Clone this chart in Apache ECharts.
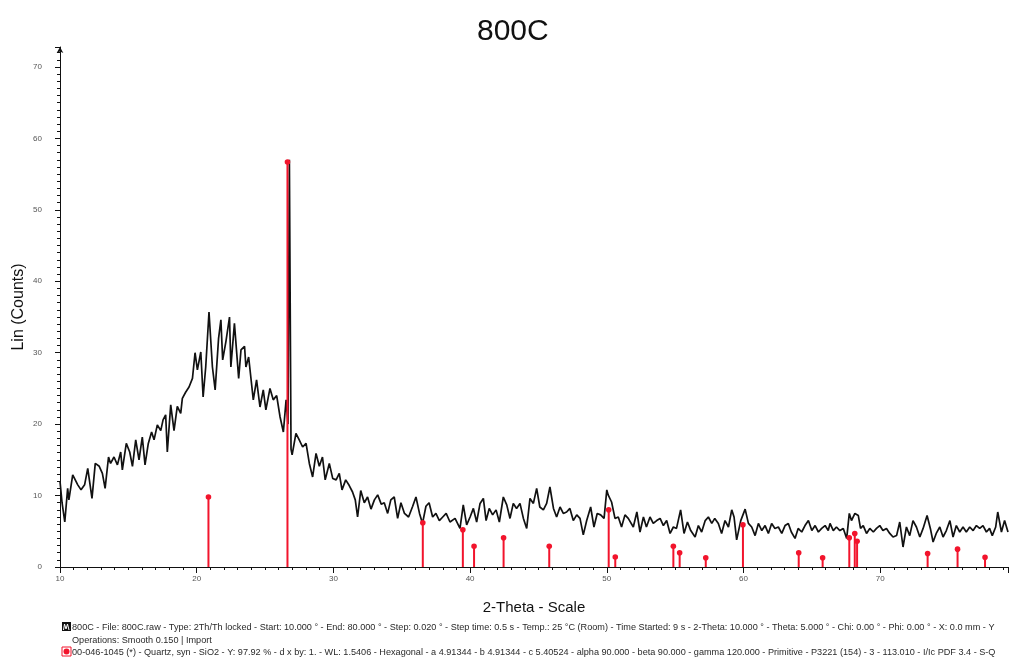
<!DOCTYPE html>
<html>
<head>
<meta charset="utf-8">
<title>800C</title>
<script src="https://cdn.jsdelivr.net/npm/echarts@6/dist/echarts.min.js"></script>
<style>
  html, body { margin: 0; padding: 0; background: #ffffff; }
  #chart { width: 1010px; height: 658px; }
</style>
</head>
<body>
<div id="chart"></div>
<script>
// Measured scan: 2-Theta (degrees) and Lin (Counts)
const scanAngle = [
  10.0, 10.15, 10.35, 10.56, 10.65, 10.93, 11.3, 11.54, 11.8, 12.03, 12.34, 12.58, 12.87, 13.1, 13.3,
  13.55, 13.7, 13.95, 14.2, 14.44, 14.56, 14.85, 15.1, 15.3, 15.54, 15.78, 16.02, 16.22, 16.46, 16.7,
  16.88, 17.12, 17.37, 17.54, 17.73, 17.85, 18.1, 18.34, 18.58, 18.83, 18.95, 19.2, 19.44, 19.69, 19.88,
  20.05, 20.3, 20.47, 20.66, 20.9, 21.15, 21.35, 21.6, 21.77, 21.9, 22.14, 22.4, 22.5, 22.76, 23.07,
  23.24, 23.5, 23.6, 23.8, 24.14, 24.38, 24.63, 24.87, 25.06, 25.36, 25.6, 25.85, 26.1, 26.34, 26.54,
  26.68, 26.78, 26.84, 26.9, 26.98, 27.26, 27.5, 27.75, 28.0, 28.24, 28.48, 28.73, 28.97, 29.2, 29.4,
  29.7, 29.95, 30.2, 30.43, 30.63, 30.9, 31.16, 31.4, 31.6, 31.77, 32.0, 32.26, 32.5, 32.75, 33.0,
  33.24, 33.5, 33.72, 33.97, 34.2, 34.45, 34.7, 34.94, 35.2, 35.5, 35.8, 36.04, 36.3, 36.52, 36.77,
  37.0, 37.26, 37.5, 37.75, 38.0, 38.25, 38.53, 38.9, 39.26, 39.5, 39.75, 40.0, 40.24, 40.48, 40.73,
  40.97, 41.17, 41.4, 41.65, 41.9, 42.14, 42.43, 42.68, 42.92, 43.16, 43.4, 43.65, 43.9, 44.14, 44.38,
  44.63, 44.87, 45.1, 45.36, 45.6, 45.84, 46.1, 46.33, 46.58, 46.82, 47.06, 47.3, 47.55, 47.8, 48.04,
  48.28, 48.53, 48.82, 49.06, 49.3, 49.55, 49.8, 50.0, 50.1, 50.35, 50.6, 50.84, 51.08, 51.33, 51.57,
  51.94, 52.2, 52.43, 52.68, 52.9, 53.16, 53.4, 53.65, 53.9, 54.14, 54.38, 54.63, 54.87, 55.1, 55.4,
  55.65, 55.9, 56.14, 56.46, 56.7, 56.94, 57.2, 57.43, 57.68, 57.9, 58.16, 58.4, 58.65, 58.9, 59.14,
  59.31, 59.5, 59.8, 60.12, 60.36, 60.6, 60.85, 61.09, 61.34, 61.58, 61.82, 62.06, 62.3, 62.55, 62.8,
  63.04, 63.28, 63.5, 63.77, 64.0, 64.26, 64.5, 64.75, 65.0, 65.24, 65.48, 65.72, 65.97, 66.2, 66.33,
  66.57, 66.8, 67.05, 67.3, 67.55, 67.74, 67.9, 68.15, 68.4, 68.56, 68.76, 69.0, 69.24, 69.5, 69.73,
  69.97, 70.2, 70.46, 70.7, 70.94, 71.2, 71.43, 71.67, 71.92, 72.16, 72.4, 72.65, 72.9, 73.14, 73.43,
  73.67, 73.87, 74.1, 74.36, 74.6, 74.84, 75.1, 75.33, 75.57, 75.82, 76.06, 76.3, 76.55, 76.8, 77.04,
  77.28, 77.52, 77.77, 78.0, 78.2, 78.45, 78.6, 78.87, 79.1, 79.35
];
const scanCounts = [
  12.0, 9.0, 6.3, 11.0, 9.4, 12.9, 11.5, 10.8, 11.5, 13.8, 9.6, 14.5, 14.1, 13.1, 11.0,
  15.4, 14.5, 15.4, 14.3, 16.1, 13.6, 17.3, 16.1, 14.1, 17.8, 15.0, 18.2, 14.3, 17.3, 18.9,
  17.8, 19.9, 19.1, 20.6, 21.3, 16.1, 22.7, 19.1, 22.5, 21.5, 23.6, 24.5, 25.2, 26.4, 30.0,
  27.6, 30.1, 23.8, 28.0, 35.7, 28.0, 24.8, 32.0, 34.6, 29.0, 31.6, 35.0, 28.0, 34.1, 26.4,
  30.4, 30.9, 28.0, 29.4, 23.4, 26.2, 22.4, 24.8, 22.0, 25.0, 23.4, 24.0, 21.0, 18.9, 23.4,
  20.0, 57.0, 57.0, 16.5, 15.7, 18.7, 17.8, 16.8, 17.3, 14.5, 12.6, 15.9, 14.1, 15.4, 12.2,
  14.5, 12.4, 12.2, 13.1, 10.8, 12.2, 11.4, 10.5, 9.4, 7.0, 10.7, 9.0, 9.8, 8.1, 9.4,
  10.1, 8.8, 9.0, 7.5, 9.4, 9.8, 6.8, 9.0, 7.5, 7.0, 8.5, 9.8, 7.5, 6.1, 8.5,
  9.0, 7.0, 7.5, 6.5, 7.0, 7.5, 6.3, 6.8, 5.4, 8.7, 5.9, 7.0, 8.2, 6.3, 8.9,
  9.6, 6.5, 8.2, 7.3, 8.0, 6.3, 9.8, 8.7, 6.8, 8.9, 8.2, 8.9, 6.8, 5.4, 9.6,
  8.9, 11.0, 8.4, 8.0, 8.9, 11.2, 8.2, 7.0, 8.4, 7.5, 7.7, 8.2, 6.5, 7.3, 6.8,
  4.5, 6.5, 8.4, 5.6, 7.5, 7.3, 6.8, 10.8, 10.1, 9.1, 6.8, 7.0, 5.6, 7.3, 6.8,
  5.6, 7.7, 4.9, 7.0, 5.6, 7.0, 6.1, 6.5, 6.8, 5.8, 6.5, 4.7, 5.6, 5.4, 8.0,
  4.7, 6.3, 5.1, 4.2, 5.8, 4.9, 6.5, 7.0, 6.1, 6.8, 6.1, 4.7, 6.5, 5.6, 8.0,
  7.0, 3.8, 6.5, 8.1, 6.1, 5.6, 4.4, 6.1, 5.1, 5.8, 4.7, 6.1, 5.4, 5.6, 4.7,
  5.8, 6.1, 4.9, 4.0, 5.4, 4.9, 5.8, 6.5, 5.1, 5.8, 4.9, 5.4, 5.8, 5.1, 6.1,
  5.1, 5.6, 5.1, 5.4, 4.0, 7.5, 6.5, 7.5, 7.2, 5.4, 5.8, 4.7, 5.4, 4.9, 5.4,
  5.8, 5.1, 5.4, 4.7, 4.2, 4.4, 6.3, 2.8, 5.6, 4.4, 6.5, 5.6, 4.2, 5.4, 7.2,
  5.4, 3.5, 4.7, 5.6, 4.2, 5.1, 6.5, 4.2, 5.8, 4.9, 5.6, 4.9, 5.6, 5.1, 5.8,
  5.4, 5.8, 4.9, 5.4, 4.4, 5.6, 7.7, 4.9, 6.5, 4.9
];

// Reference pattern 00-046-1045 Quartz: line positions and heights on the same scale
const quartzAngle = [20.86, 26.64, 36.54, 39.47, 40.29, 42.45, 45.79, 50.14, 50.62, 54.87, 55.33,
  57.24, 59.96, 64.04, 65.79, 67.74, 68.14, 68.31, 73.47, 75.66, 77.67];
const quartzHeight = [9.8, 56.7, 6.2, 5.2, 2.9, 4.1, 2.9, 8.0, 1.4, 2.9, 2.0,
  1.3, 5.9, 2.0, 1.3, 4.1, 4.7, 3.6, 1.9, 2.5, 1.35];

const chartTitle = '800C';
const xAxisTitle = '2-Theta - Scale';
const yAxisTitle = 'Lin (Counts)';
const scanLegend = '800C - File: 800C.raw - Type: 2Th/Th locked - Start: 10.000 ° - End: 80.000 ° - Step: 0.020 ° - Step time: 0.5 s - Temp.: 25 °C (Room) - Time Started: 9 s - 2-Theta: 10.000 ° - Theta: 5.000 ° - Chi: 0.00 ° - Phi: 0.00 ° - X: 0.0 mm - Y';
const scanLegend2 = 'Operations: Smooth 0.150 | Import';
const quartzLegend = '00-046-1045 (*) - Quartz, syn - SiO2 - Y: 97.92 % - d x by: 1. - WL: 1.5406 - Hexagonal - a 4.91344 - b 4.91344 - c 5.40524 - alpha 90.000 - beta 90.000 - gamma 120.000 - Primitive - P3221 (154) - 3 - 113.010 - I/Ic PDF 3.4 - S-Q';

const RED = '#f2142c';
const FONT = '"Liberation Sans", Arial, sans-serif';

const scanData = scanAngle.map((a, i) => [a, scanCounts[i]]);
const quartzData = quartzAngle.map((a, i) => [a, quartzHeight[i]]);

const chart = echarts.init(document.getElementById('chart'), null, { renderer: 'canvas' });

const legendText = {
  fontFamily: FONT, fontSize: 9.15, fill: '#2a2a2a'
};

chart.setOption({
  animation: false,
  backgroundColor: '#ffffff',
  title: {
    text: chartTitle,
    left: 472,
    top: 12,
    textStyle: { fontFamily: FONT, fontSize: 30, fontWeight: 'normal', color: '#111' }
  },
  grid: { left: 60, right: 2, top: 47, bottom: 91, containLabel: false, outerBoundsMode: 'none' },
  xAxis: {
    type: 'value',
    min: 10,
    max: 79.35,
    interval: 10,
    name: xAxisTitle,
    nameLocation: 'middle',
    nameGap: 33,
    nameMoveOverlap: false,
    nameTextStyle: { fontFamily: FONT, fontSize: 15, color: '#111' },
    axisLine: { lineStyle: { color: '#111', width: 1 } },
    axisTick: { show: true, length: 6, lineStyle: { color: '#111' } },
    minorTick: { show: true, splitNumber: 10, length: 3, lineStyle: { color: '#111' } },
    splitLine: { show: false },
    axisLabel: {
      fontFamily: FONT, fontSize: 8, color: '#555', margin: 8,
      formatter: v => (v % 10 === 0 ? String(v) : '')
    }
  },
  yAxis: {
    type: 'value',
    min: 0,
    max: 72.8,
    interval: 10,
    name: yAxisTitle,
    nameLocation: 'middle',
    nameGap: 33,
    nameMoveOverlap: false,
    nameTextStyle: { fontFamily: FONT, fontSize: 16, color: '#111' },
    axisLine: { show: true, symbol: ['none', 'arrow'], symbolSize: [5, 6], lineStyle: { color: '#111', width: 1 } },
    axisTick: { show: true, length: 5, lineStyle: { color: '#111' } },
    minorTick: { show: true, splitNumber: 10, length: 3, lineStyle: { color: '#111' } },
    splitLine: { show: false },
    axisLabel: {
      fontFamily: FONT, fontSize: 8, color: '#555', margin: 18,
      formatter: v => (v % 10 === 0 ? String(v) : '')
    }
  },
  series: [
    {
      name: '800C',
      type: 'line',
      data: scanData,
      showSymbol: false,
      symbol: 'none',
      lineStyle: { color: '#111', width: 1.7 },
      z: 2
    },
    {
      name: 'Quartz',
      type: 'custom',
      data: quartzData,
      encode: { x: 0, y: 1 },
      z: 3,
      renderItem: (params, api) => {
        const base = api.coord([api.value(0), 0]);
        const top = api.coord([api.value(0), api.value(1)]);
        return {
          type: 'group',
          children: [
            { type: 'line', shape: { x1: base[0], y1: base[1], x2: top[0], y2: top[1] },
              style: { stroke: RED, lineWidth: 2 } },
            { type: 'circle', shape: { cx: top[0], cy: top[1], r: 2.8 },
              style: { fill: RED } }
          ]
        };
      }
    }
  ],
  graphic: [
    // scan legend icon
    { type: 'rect', shape: { x: 62, y: 622, width: 9, height: 9 }, style: { fill: '#111' } },
    { type: 'polyline', shape: { points: [[63.5, 630], [64.5, 624], [66, 629], [67.5, 624], [69, 630]] },
      style: { stroke: '#fff', lineWidth: 1, fill: null } },
    { type: 'text', x: 72, y: 627, style: Object.assign({ text: scanLegend, verticalAlign: 'middle' }, legendText) },
    { type: 'text', x: 72, y: 640, style: Object.assign({ text: scanLegend2, verticalAlign: 'middle' }, legendText) },
    // quartz legend icon
    { type: 'rect', shape: { x: 62, y: 647, width: 9, height: 9 }, style: { fill: '#fff', stroke: RED, lineWidth: 1 } },
    { type: 'circle', shape: { cx: 66.5, cy: 651.5, r: 3 }, style: { fill: RED } },
    { type: 'text', x: 72, y: 652, style: Object.assign({ text: quartzLegend, verticalAlign: 'middle' }, legendText) }
  ]
});
</script>
</body>
</html>
